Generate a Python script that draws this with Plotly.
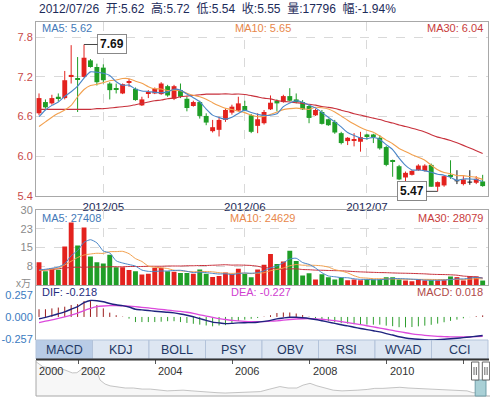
import plotly.graph_objects as go
import pandas as pd

W, H = 490, 399


def px(x):
    return x / W


def py(y):
    return 1 - y / H


# ---------------- data ----------------
date_str = "2012/07/26"
month_labels = ["2012/05", "2012/06", "2012/07"]
month_idx = [10, 32, 51]

open_ = [6.65, 6.82, 6.80, 6.90, 6.88, 7.20, 7.18, 7.20, 7.45, 7.35,
         7.34, 7.10, 7.03, 6.95, 7.11, 7.02, 6.77, 6.95, 6.95, 6.94,
         7.06, 6.87, 7.00, 6.87, 6.76, 6.82, 6.61, 6.38, 6.40, 6.55,
         6.66, 6.69, 6.76, 6.62, 6.46, 6.50, 6.71, 6.84, 6.82, 6.91,
         6.86, 6.82, 6.76, 6.62, 6.67, 6.56, 6.52, 6.35, 6.23, 6.24,
         6.22, 6.33, 6.33, 6.28, 6.14, 5.93, 5.85, 5.68, 5.72, 5.79,
         5.78, 5.87, 5.54, 5.56, 5.72, 5.63, 5.58, 5.61, 5.60, 5.62]
high = [6.95, 6.86, 6.93, 6.95, 7.29, 7.68, 7.50, 7.69, 7.47, 7.40,
        7.39, 7.12, 7.10, 7.10, 7.17, 7.04, 6.90, 7.00, 7.04, 7.12,
        7.08, 7.08, 7.10, 6.90, 6.84, 6.84, 6.65, 6.55, 6.60, 6.72,
        6.78, 6.90, 6.84, 6.64, 6.65, 6.70, 6.92, 6.86, 6.93, 7.03,
        6.95, 6.85, 6.78, 6.72, 6.70, 6.57, 6.55, 6.37, 6.29, 6.35,
        6.37, 6.34, 6.34, 6.32, 6.16, 5.95, 5.87, 5.77, 5.79, 5.88,
        5.88, 5.89, 5.62, 5.71, 5.94, 5.79, 5.70, 5.79, 5.70, 5.72]
low = [6.62, 6.72, 6.78, 6.83, 6.86, 7.10, 6.67, 7.19, 7.34, 7.07,
       7.10, 6.86, 6.95, 6.94, 7.05, 6.84, 6.76, 6.88, 6.94, 6.93,
       6.90, 6.85, 6.88, 6.68, 6.75, 6.57, 6.47, 6.36, 6.30, 6.52,
       6.63, 6.68, 6.68, 6.35, 6.35, 6.48, 6.70, 6.68, 6.81, 6.83,
       6.80, 6.70, 6.50, 6.61, 6.48, 6.46, 6.34, 6.18, 6.17, 6.15,
       6.07, 6.25, 6.20, 6.10, 5.85, 5.69, 5.64, 5.59, 5.71, 5.78,
       5.77, 5.54, 5.47, 5.54, 5.66, 5.58, 5.56, 5.57, 5.58, 5.54]
close = [6.88, 6.74, 6.88, 6.88, 7.15, 7.23, 7.16, 7.49, 7.35, 7.12,
         7.15, 7.00, 7.01, 7.09, 7.13, 6.85, 6.86, 6.97, 7.02, 7.10,
         6.92, 7.06, 6.90, 6.73, 6.82, 6.61, 6.51, 6.44, 6.55, 6.70,
         6.75, 6.80, 6.69, 6.37, 6.56, 6.67, 6.81, 6.80, 6.91, 6.84,
         6.83, 6.71, 6.58, 6.70, 6.49, 6.47, 6.36, 6.20, 6.28, 6.26,
         6.29, 6.30, 6.30, 6.12, 5.87, 5.92, 5.65, 5.75, 5.78, 5.86,
         5.86, 5.54, 5.61, 5.70, 5.70, 5.63, 5.65, 5.61, 5.66, 5.55]
volume = [91000, 55000, 66000, 61000, 154000, 250000, 158000, 230000, 114000, 91000,
          86000, 121000, 71000, 71000, 60000, 55000, 42000, 45000, 69000, 69000,
          55000, 53000, 48000, 48000, 45000, 62000, 45000, 32000, 36000, 50000,
          45000, 65000, 44000, 31000, 62000, 81000, 124000, 84000, 94000, 137000,
          96080, 38000, 47000, 22000, 43000, 31000, 22000, 30000, 19000, 22000,
          19000, 22000, 22000, 22000, 31000, 31000, 22000, 18000, 15000, 24000,
          18500, 19000, 18500, 19250, 34000, 31500, 18200, 35200, 34344, 17796]

# moving-average values before enough history is on screen
ma5_head = [6.60, 6.70, 6.77, 6.82]
ma10_head = [6.45, 6.52, 6.59, 6.65, 6.70, 6.77, 6.90, 7.01, 7.07]
ma30_head = [6.71, 6.71, 6.71, 6.71, 6.71, 6.71, 6.71, 6.71, 6.71, 6.72,
             6.72, 6.73, 6.74, 6.75, 6.76, 6.78, 6.80, 6.82, 6.84, 6.85,
             6.87, 6.88, 6.90, 6.91, 6.92, 6.93, 6.94, 6.94, 6.94]
vol_ma5_head_wan = [6.0, 6.3, 6.7, 7.2]
vol_ma10_head_wan = [5.8, 6.0, 6.3, 6.8, 8.0, 9.5, 11.0, 12.0, 12.4]
vol_ma30_head_wan = [5.8, 6.0, 6.2, 6.5, 6.8, 7.0, 7.1, 7.1, 7.2, 7.2,
                     7.2, 7.3, 7.3, 7.3, 7.4, 7.4, 7.4, 7.5, 7.5, 7.5,
                     7.6, 7.6, 7.6, 7.7, 7.7, 7.8, 7.8, 7.9, 8.0]

dif = [-0.021, -0.005, 0.015, 0.037, 0.060, 0.090, 0.120, 0.168, 0.193, 0.190,
       0.178, 0.157, 0.142, 0.132, 0.116, 0.090, 0.083, 0.075, 0.067, 0.060,
       0.055, 0.047, 0.035, 0.020, 0.002, -0.020, -0.040, -0.060, -0.070, -0.078,
       -0.075, -0.070, -0.068, -0.066, -0.062, -0.052, -0.040, -0.022, -0.012, -0.004,
       -0.004, -0.010, -0.018, -0.030, -0.045, -0.060, -0.075, -0.092, -0.105, -0.120,
       -0.135, -0.148, -0.162, -0.175, -0.195, -0.212, -0.232, -0.246, -0.256, -0.262,
       -0.266, -0.268, -0.266, -0.262, -0.256, -0.250, -0.242, -0.234, -0.226, -0.218]
dea = [-0.066, -0.050, -0.035, -0.018, 0.000, 0.020, 0.045, 0.075, 0.100, 0.120,
       0.128, 0.132, 0.132, 0.130, 0.126, 0.120, 0.113, 0.105, 0.097, 0.088,
       0.080, 0.072, 0.065, 0.055, 0.042, 0.025, 0.010, -0.005, -0.020, -0.030,
       -0.040, -0.047, -0.052, -0.055, -0.056, -0.054, -0.050, -0.045, -0.038, -0.030,
       -0.024, -0.021, -0.020, -0.022, -0.027, -0.035, -0.044, -0.055, -0.066, -0.078,
       -0.090, -0.103, -0.117, -0.130, -0.144, -0.158, -0.172, -0.185, -0.197, -0.207,
       -0.215, -0.222, -0.227, -0.231, -0.233, -0.234, -0.234, -0.233, -0.230, -0.227]

nav_year = [2000.91, 2001.09, 2001.28, 2001.46, 2001.59, 2001.72, 2001.85, 2001.97, 2002.10, 2002.23,
            2002.36, 2002.49, 2002.57, 2002.70, 2002.83, 2003.01, 2003.22, 2003.43, 2003.66, 2003.87,
            2004.07, 2004.31, 2004.51, 2004.72, 2004.95, 2005.16, 2005.37, 2005.60, 2005.81, 2006.02,
            2006.25, 2006.46, 2006.72, 2006.97, 2007.23, 2007.44, 2007.67, 2007.83, 2008.01, 2008.19,
            2008.40, 2008.61, 2008.84, 2009.05, 2009.25, 2009.49, 2009.69, 2009.90, 2010.14, 2010.34,
            2010.55, 2010.78, 2010.99, 2011.20, 2011.43, 2011.64, 2011.85, 2012.08, 2012.23, 2012.42,
            2012.57]
nav_close = [29.94, 26.02, 25.18, 23.50, 24.34, 22.66, 21.26, 21.40, 24.34, 25.18,
             23.50, 22.10, 15.66, 12.58, 11.18, 10.62, 9.50, 9.50, 8.66, 8.66,
             7.82, 7.26, 7.54, 7.82, 7.26, 6.70, 6.42, 5.86, 5.58, 5.86,
             6.42, 6.70, 6.70, 8.66, 10.62, 9.50, 9.50, 11.74, 13.14, 11.18,
             9.50, 7.82, 7.26, 7.26, 7.82, 8.38, 9.22, 9.22, 9.78, 10.06,
             9.50, 9.22, 8.66, 8.38, 8.38, 7.82, 7.54, 7.26, 5.86, 5.58,
             5.58]
nav_tick_years = [2002, 2004, 2006, 2008, 2010, 2012]
nav_label_years = [2002, 2004, 2006, 2008, 2010]
sel_range = [2012.29, 2012.57]
tabs = ["MACD", "KDJ", "BOLL", "PSY", "OBV", "RSI", "WVAD", "CCI"]

price_ticks = [5.4, 6.0, 6.6, 7.2, 7.8]
vol_ticks = [7.5, 15, 22.5, 30]
vol_tick_text = ["8", "15", "23", "30"]
macd_ticks = [-0.257, 0.0, 0.257]
macd_tick_text = ["-0.257", "0.000", "0.257"]

# ---------------- derived ----------------
n = len(close)
idx = list(range(n))


def moving(values, window, head):
    s = pd.Series(values, dtype=float).rolling(window).mean().tolist()
    return list(head) + s[len(head):]


ma5 = moving(close, 5, ma5_head)
ma10 = moving(close, 10, ma10_head)
ma30 = moving(close, 30, ma30_head)
vol_w = [v / 10000 for v in volume]
vma5 = moving(vol_w, 5, vol_ma5_head_wan)
vma10 = moving(vol_w, 10, vol_ma10_head_wan)
vma30 = moving(vol_w, 30, vol_ma30_head_wan)
macd = [2 * (a - b) for a, b in zip(dif, dea)]

RED = "#e3221e"
GREEN = "#1f9e27"
BLACK = "#111111"
C5 = "#4a86c8"
C10 = "#f2a04e"
C30 = "#c8313c"
GRID = "#d9d9d9"
BORDER = "#a8a8a8"
NAVY = "#1c2b5a"
FONT = "Arial, Liberation Sans, Noto Sans CJK SC, sans-serif"

col = [RED if c > o else (GREEN if c < o else BLACK) for o, c in zip(open_, close)]

fig = go.Figure()

# wicks
wick = {RED: ([], []), GREEN: ([], []), BLACK: ([], [])}
for i in idx:
    xs, ys = wick[col[i]]
    xs += [i, i, None]
    ys += [low[i], high[i], None]
    if col[i] == BLACK:
        xs += [i - 0.37, i + 0.37, None]
        ys += [open_[i], open_[i], None]
for c, (xs, ys) in wick.items():
    fig.add_trace(go.Scatter(x=xs, y=ys, mode="lines", line=dict(color=c, width=1),
                             xaxis="x", yaxis="y", hoverinfo="skip"))

body_i = [i for i in idx if col[i] != BLACK]
fig.add_trace(go.Bar(
    x=body_i,
    base=[min(open_[i], close[i]) for i in body_i],
    y=[abs(close[i] - open_[i]) for i in body_i],
    width=0.76,
    marker=dict(color=[col[i] for i in body_i], line=dict(width=0)),
    xaxis="x", yaxis="y", hoverinfo="skip"))

for vals, c in [(ma30, C30), (ma10, C10), (ma5, C5)]:
    fig.add_trace(go.Scatter(x=idx, y=vals, mode="lines",
                             line=dict(color=c, width=1.1, shape="spline", smoothing=0.6),
                             xaxis="x", yaxis="y", hoverinfo="skip"))

# volume
vcol = [RED if c >= o else GREEN for o, c in zip(open_, close)]
fig.add_trace(go.Bar(x=idx, y=vol_w, width=0.76,
                     marker=dict(color=vcol, line=dict(width=0)),
                     xaxis="x2", yaxis="y2", hoverinfo="skip"))
for vals, c in [(vma30, C30), (vma10, C10), (vma5, C5)]:
    fig.add_trace(go.Scatter(x=idx, y=vals, mode="lines",
                             line=dict(color=c, width=1, shape="spline", smoothing=0.6),
                             xaxis="x2", yaxis="y2", hoverinfo="skip"))

# MACD
hp = ([], [])
hn = ([], [])
for i, m in enumerate(macd):
    t = hp if m >= 0 else hn
    t[0].extend([i, i, None])
    t[1].extend([0, m, None])
fig.add_trace(go.Scatter(x=hp[0], y=hp[1], mode="lines", line=dict(color="#9b1c1c", width=1),
                         xaxis="x3", yaxis="y3", hoverinfo="skip"))
fig.add_trace(go.Scatter(x=hn[0], y=hn[1], mode="lines", line=dict(color="#2e9e2e", width=1),
                         xaxis="x3", yaxis="y3", hoverinfo="skip"))
fig.add_trace(go.Scatter(x=idx, y=dea, mode="lines",
                         line=dict(color="#dc4adc", width=1.3, shape="spline", smoothing=0.6),
                         xaxis="x3", yaxis="y3", hoverinfo="skip"))
fig.add_trace(go.Scatter(x=idx, y=dif, mode="lines",
                         line=dict(color="#1f237f", width=1.4, shape="spline", smoothing=0.6),
                         xaxis="x3", yaxis="y3", hoverinfo="skip"))

# navigator
fig.add_trace(go.Scatter(x=nav_year, y=nav_close, mode="lines",
                         line=dict(color="#c4c4c4", width=1),
                         fill="tozeroy", fillcolor="rgba(238,238,238,0.45)",
                         xaxis="x4", yaxis="y4", hoverinfo="skip"))

xr = [-0.47, 69.83]
xdom = [px(36), px(488)]

fig.update_layout(
    width=W, height=H, autosize=False,
    margin=dict(l=0, r=0, t=0, b=0, autoexpand=False),
    paper_bgcolor="white", plot_bgcolor="white",
    showlegend=False, barmode="overlay", hovermode=False,
    font=dict(family=FONT),
    xaxis=dict(domain=xdom, range=xr, anchor="y", tickmode="array", tickvals=month_idx,
               ticktext=month_labels, tickfont=dict(size=11.5, color=NAVY), ticks="",
               showgrid=True, gridcolor=GRID, griddash="dash", gridwidth=1, automargin=False,
               showline=True, linecolor=BORDER, mirror=True, zeroline=False),
    yaxis=dict(domain=[py(196), py(22)], range=[5.4, 8.03], tickmode="array",
               tickvals=price_ticks, ticktext=[f"{v:.1f}" for v in price_ticks],
               tickfont=dict(size=11, color="#c84848"), ticks="", automargin=False,
               showgrid=True, gridcolor=GRID, griddash="dash",
               showline=True, linecolor=BORDER, mirror=True, zeroline=False),
    xaxis2=dict(domain=xdom, range=xr, anchor="y2", matches="x", tickmode="array",
                tickvals=month_idx, showticklabels=False, ticks="", automargin=False,
                showgrid=True, gridcolor=GRID, griddash="dash",
                showline=True, linecolor=BORDER, mirror=True, zeroline=False),
    yaxis2=dict(domain=[py(285), py(210)], range=[0, 30], tickmode="array",
                tickvals=vol_ticks, ticktext=vol_tick_text, automargin=False,
                tickfont=dict(size=11, color="#8a8a8a"), ticks="",
                showgrid=True, gridcolor=GRID, griddash="dash",
                showline=True, linecolor=BORDER, mirror=True, zeroline=False),
    xaxis3=dict(domain=xdom, range=xr, anchor="y3", matches="x", showticklabels=False,
                showgrid=False, showline=False, zeroline=False, ticks="", automargin=False),
    yaxis3=dict(domain=[py(340), py(285)], range=[-0.27, 0.374], tickmode="array",
                tickvals=macd_ticks, ticktext=macd_tick_text, automargin=False,
                tickfont=dict(size=11, color="#3b7bbf"), ticks="",
                showgrid=False, showline=True, linecolor=BORDER, mirror=False, zeroline=False),
    xaxis4=dict(domain=[px(36), 1.0], range=[2000.91, 2012.674], anchor="y4", side="top",
                tickmode="array", tickvals=nav_tick_years, showticklabels=False,
                ticks="inside", ticklen=4, tickcolor="#555", tickwidth=1, automargin=False,
                showgrid=False, showline=False, zeroline=False),
    yaxis4=dict(domain=[py(396), py(360)], range=[3.28, 31.3], visible=False,
                automargin=False),
)

ann = []


def text(x, y, s, color, size=11, xanchor="left"):
    ann.append(dict(x=px(x), y=py(y), xref="paper", yref="paper", text=s, showarrow=False,
                    xanchor=xanchor, yanchor="middle", font=dict(size=size, color=color)))


# header line: date + OHLC/volume/change of the last session (items separated by two spaces)
chg = (close[-1] / close[-2] - 1) * 100
title_parts = [date_str, f"开:{open_[-1]:.2f}", f"高:{high[-1]:.2f}", f"低:{low[-1]:.2f}",
               f"收:{close[-1]:.2f}", f"量:{volume[-1]}", f"幅:{chg:.2f}%"]
text(37, 8.5, "\u00a0\u00a0".join(title_parts), NAVY, 12)

text(40, 28, f"MA5: {ma5[-1]:.2f}", "#4479b8")
text(263, 28, f"MA10: {ma10[-1]:.2f}", "#e8874a", xanchor="center")
text(485, 28, f"MA30: {ma30[-1]:.2f}", "#c83c3c", xanchor="right")

text(40, 217.5, f"MA5: {round(vma5[-1] * 10000)}", "#4479b8")
text(262, 217.5, f"MA10: {round(vma10[-1] * 10000)}", "#e8874a", xanchor="center")
text(485, 217.5, f"MA30: {round(vma30[-1] * 10000)}", "#c83c3c", xanchor="right")

text(40, 291.5, f"DIF: {dif[-1]:.3f}", "#1f2d80")
text(261, 291.5, f"DEA: {dea[-1]:.3f}", "#d040d0", xanchor="center")
text(485, 291.5, f"MACD: {macd[-1]:.3f}", "#b04a4a", xanchor="right")

text(33, 283.5, "x万", "#8a8a8a", 10, xanchor="right")

hi_i = max(idx, key=lambda i: high[i])
lo_i = min(idx, key=lambda i: low[i])
for i, v, dx in [(hi_i, high[hi_i], 28), (lo_i, low[lo_i], -26)]:
    ann.append(dict(x=i, y=v, xref="x", yref="y", text=f"<b>{v:.2f}</b>", showarrow=True,
                    arrowhead=0, arrowwidth=1, arrowcolor="#444", ax=dx, ay=0,
                    standoff=0, bordercolor="#888", borderwidth=1, borderpad=2,
                    bgcolor="white", font=dict(size=12, color="#111")))

# tabs
shapes = []
tab_w = (488 - 36) / len(tabs)
for k, t in enumerate(tabs):
    x0 = 36 + k * tab_w
    shapes.append(dict(type="rect", xref="paper", yref="paper", x0=px(x0), x1=px(x0 + tab_w),
                       y0=py(359), y1=py(340),
                       fillcolor="#b9cce6" if k == 0 else "#dde6f2",
                       line=dict(color="#b3c3da", width=1), layer="below"))
    text(x0 + tab_w / 2, 350, t, "#1f3864", 12.5, xanchor="center")
shapes.append(dict(type="line", xref="paper", yref="paper", x0=px(36), x1=px(489),
                   y0=py(359.5), y1=py(359.5), line=dict(color="#333", width=2)))

# navigator frame
shapes.append(dict(type="line", xref="paper", yref="paper", x0=px(36), x1=px(36),
                   y0=py(360), y1=py(396), line=dict(color=BORDER, width=1)))
shapes.append(dict(type="line", xref="paper", yref="paper", x0=px(36), x1=1.0,
                   y0=py(396), y1=py(396), line=dict(color=BORDER, width=1)))

ann.append(dict(x=nav_year[0], y=py(371), xref="x4", yref="paper", text=str(int(nav_year[0])),
                showarrow=False, xanchor="left", yanchor="middle", xshift=1,
                font=dict(size=11, color="#333")))
for yv in nav_label_years:
    ann.append(dict(x=yv, y=py(371), xref="x4", yref="paper", text=str(yv), showarrow=False,
                    xanchor="left", yanchor="middle", xshift=1,
                    font=dict(size=11, color="#333")))

# selection + handles
shapes.append(dict(type="rect", xref="x4", yref="paper", x0=sel_range[0], x1=sel_range[1],
                   y0=py(396), y1=py(380), fillcolor="#a9d0d6", line=dict(color="#6f9ea8", width=1)))
hw = 0.095
for s in sel_range:
    shapes.append(dict(type="rect", xref="x4", yref="paper", x0=s - hw, x1=s + hw,
                       y0=py(380), y1=py(362), fillcolor="white", line=dict(color="#666", width=1)))
    for off in (-0.03, 0.03):
        shapes.append(dict(type="line", xref="x4", yref="paper", x0=s + off, x1=s + off,
                           y0=py(375), y1=py(367), line=dict(color="#666", width=1)))

fig.update_layout(annotations=ann, shapes=shapes)

fig.write_html("out.html", config={"displayModeBar": False})

# remove the browser's default page margin so the figure sits at the window origin
with open("out.html", "r", encoding="utf-8") as f:
    html = f.read()
html = html.replace("<head>", "<head><style>html,body{margin:0;padding:0;overflow:hidden;}</style>", 1)
with open("out.html", "w", encoding="utf-8") as f:
    f.write(html)
